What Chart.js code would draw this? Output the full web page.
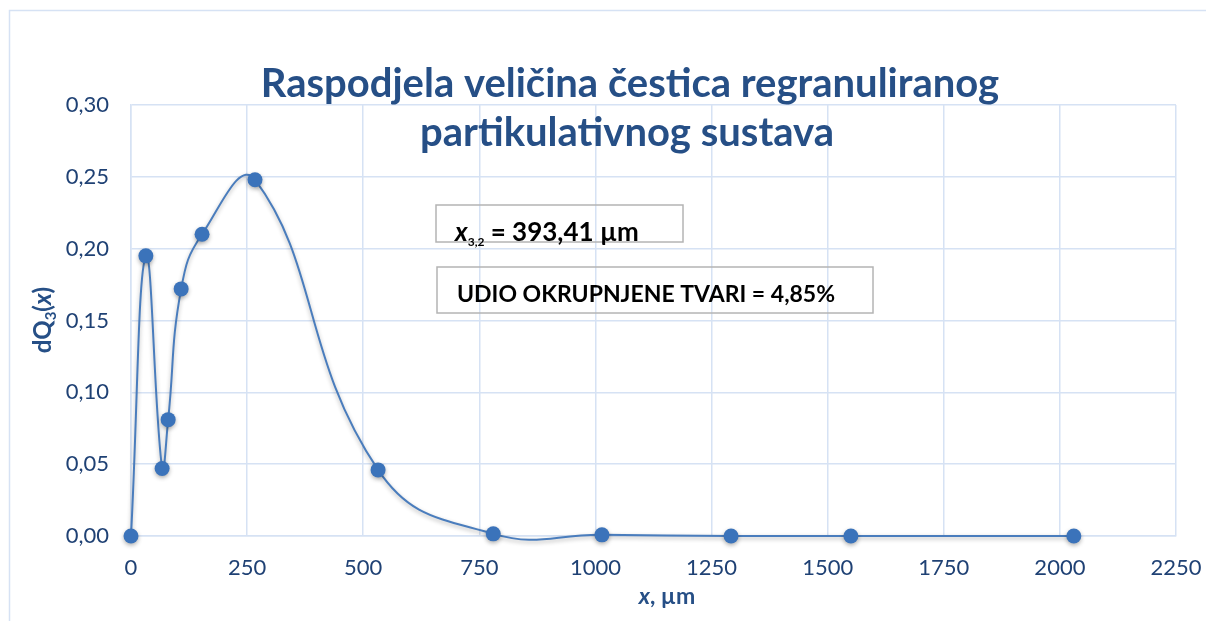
<!DOCTYPE html>
<html>
<head>
<meta charset="utf-8">
<script src="https://cdn.jsdelivr.net/npm/chart.js@4/dist/chart.umd.min.js"></script>
<style>
  html, body { margin: 0; padding: 0; background: #fff; }
  #wrap { width: 1206px; height: 621px; position: relative; }
</style>
</head>
<body>
<div id="wrap"><canvas id="psdChart"></canvas></div>
<script>
// particle size (um) and differential distribution dQ3(x)
const sizes = [0, 32, 67, 80, 108, 153, 267, 532, 780, 1014, 1292, 1550, 2030]
const dQ3 = [0, 0.195, 0.047, 0.081, 0.172, 0.210, 0.248, 0.046, 0.0015, 0.0008, 0, 0, 0]
const xTicks = [0, 250, 500, 750, 1000, 1250, 1500, 1750, 2000, 2250]
const yTicks = [0, 0.05, 0.10, 0.15, 0.20, 0.25, 0.30]

const titleLines = ['Raspodjela veličina čestica regranuliranog', 'partikulativnog sustava']
const sauterMean = '393,41'
const coarseShare = '4,85'

const FONT = 'Lato, "Open Sans", sans-serif'
const GRID = '#d6e2f4'
const DARK = '#1f4174'
const TITLE_BLUE = '#264f86'

// draws a row of text pieces with their own fonts, e.g. italic x + subscript
function drawRuns(ctx, runs, x, y, align) {
    let total = 0
    runs.forEach(r => { ctx.font = r.font; total += ctx.measureText(r.text).width })
    let cx = align === 'center' ? x - total / 2 : x
    runs.forEach(r => {
        ctx.font = r.font
        ctx.fillText(r.text, cx, y + (r.dy || 0))
        cx += ctx.measureText(r.text).width
    })
}

const frame = {
    id: 'frame',
    beforeDraw(chart) {
        const ctx = chart.ctx
        ctx.save()
        ctx.fillStyle = '#fff'
        ctx.fillRect(0, 0, chart.width, chart.height)
        ctx.strokeStyle = GRID
        ctx.lineWidth = 1.5
        ctx.beginPath()
        ctx.moveTo(9.5, chart.height)
        ctx.lineTo(9.5, 10.5)
        ctx.lineTo(chart.width, 10.5)
        ctx.stroke()
        ctx.restore()
    },
    afterDraw(chart) {
        const ctx = chart.ctx
        ctx.save()
        ctx.textBaseline = 'alphabetic'

        // chart title
        ctx.fillStyle = TITLE_BLUE
        ctx.textAlign = 'center'
        ctx.font = 'bold 40px ' + FONT
        ctx.fillText(titleLines[0], 630, 97)
        ctx.fillText(titleLines[1], 627, 146)

        // axis titles
        ctx.textAlign = 'left'
        drawRuns(ctx, [
            { text: 'x', font: 'italic bold 23px ' + FONT },
            { text: ', µm', font: 'bold 23px ' + FONT }
        ], 667, 604, 'center')

        ctx.save()
        ctx.translate(51, 320)
        ctx.rotate(-Math.PI / 2)
        drawRuns(ctx, [
            { text: 'dQ', font: 'bold 24px ' + FONT },
            { text: '3', font: 'bold 15px ' + FONT, dy: 5 },
            { text: '(', font: 'bold 24px ' + FONT },
            { text: 'x', font: 'italic bold 24px ' + FONT },
            { text: ')', font: 'bold 24px ' + FONT }
        ], 0, 0, 'center')
        ctx.restore()

        // info boxes
        ctx.strokeStyle = '#b4b4b4'
        ctx.lineWidth = 1.5
        ctx.strokeRect(436, 205, 247, 37)
        ctx.strokeRect(437, 267, 436, 46)
        ctx.fillStyle = '#000'
        drawRuns(ctx, [
            { text: 'x', font: 'italic bold 26px ' + FONT },
            { text: '3,2', font: 'bold 12px ' + FONT, dy: 5 },
            { text: ' = ' + sauterMean + ' µm', font: 'bold 26px ' + FONT }
        ], 455, 241)
        drawRuns(ctx, [
            { text: 'UDIO OKRUPNJENE TVARI = ' + coarseShare + '%', font: 'bold 23px ' + FONT }
        ], 457, 302)
        ctx.restore()
    }
}

// soft drop shadow under the line and markers
const shadow = {
    id: 'shadow',
    beforeDatasetsDraw(chart) {
        const ctx = chart.ctx
        ctx.save()
        ctx.shadowColor = 'rgba(0, 0, 0, 0.3)'
        ctx.shadowBlur = 4
        ctx.shadowOffsetY = 2
    },
    afterDatasetsDraw(chart) {
        chart.ctx.restore()
    }
}

const comma = (v, d) => v.toFixed(d).replace('.', ',')

new Chart(document.getElementById('psdChart'), {
    type: 'scatter',
    data: {
        datasets: [{
            data: sizes.map((x, i) => ({ x: x, y: dQ3[i] })),
            showLine: true,
            tension: 0.45,
            borderColor: '#4a7dbd',
            borderWidth: 2,
            pointRadius: 7.5,
            pointBackgroundColor: '#3b73ba',
            pointBorderWidth: 0,
            capBezierPoints: false,
            clip: false
        }]
    },
    options: {
        responsive: true,
        maintainAspectRatio: false,
        animation: false,
        layout: { padding: { left: 0, right: 30, top: 105, bottom: 0 } },
        plugins: {
            legend: { display: false },
            tooltip: { enabled: false }
        },
        scales: {
            x: {
                type: 'linear',
                min: xTicks[0],
                max: xTicks[xTicks.length - 1],
                afterBuildTicks: s => { s.ticks = xTicks.map(v => ({ value: v })) },
                afterFit: s => {
                    s.height = 85
                    s.paddingLeft = 0
                    s.paddingRight = 0
                },
                grid: { color: GRID, lineWidth: 1.5, drawTicks: false },
                border: { color: GRID, width: 1.5 },
                ticks: {
                    padding: 19,
                    color: DARK,
                    font: { family: FONT, size: 22 },
                    maxRotation: 0,
                    callback: v => String(v)
                }
            },
            y: {
                min: yTicks[0],
                max: yTicks[yTicks.length - 1],
                afterBuildTicks: s => { s.ticks = yTicks.map(v => ({ value: v })) },
                afterFit: s => {
                    s.width = 131
                    s.paddingTop = 0
                    s.paddingBottom = 0
                },
                grid: { color: GRID, lineWidth: 1.5, drawTicks: false },
                border: { color: GRID, width: 1.5 },
                ticks: {
                    padding: 22,
                    color: DARK,
                    font: { family: FONT, size: 22 },
                    callback: v => comma(v, 2)
                }
            }
        }
    },
    plugins: [frame, shadow]
})
</script>
</body>
</html>
